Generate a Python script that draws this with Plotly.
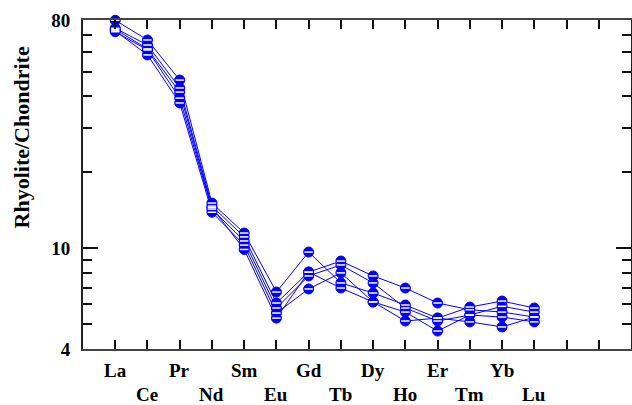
import math
import plotly.graph_objects as go

elements = ["La", "Ce", "Pr", "Nd", "Sm", "Eu", "Gd", "Tb", "Dy", "Ho", "Er", "Tm", "Yb", "Lu"]

sample_1 = [79.8, 66.7, 46.3, 15.1, 11.5, 6.72, 9.67, 7.30, 6.66, 5.97, 5.30, 5.86, 6.19, 5.81]
sample_2 = [74.2, 63.7, 43.1, 14.7, 11.1, 6.08, 8.06, 8.91, 7.78, 6.97, 6.08, 5.72, 5.60, 5.35]
sample_3 = [71.9, 60.9, 39.3, 14.3, 10.7, 5.81, 7.78, 8.60, 7.30, 5.81, 5.16, 5.45, 5.90, 5.60]
sample_4 = [72.5, 58.2, 37.6, 13.9, 10.3, 5.55, 6.91, 8.00, 6.14, 5.60, 4.71, 5.45, 5.35, 5.12]
sample_5 = [73.5, 61.5, 41.5, 14.5, 9.9, 5.30, 8.06, 6.97, 6.14, 5.16, 5.30, 5.12, 4.89, 5.35]
samples = [sample_1, sample_2, sample_3, sample_4, sample_5]

y_tick_vals = [4, 10, 80]
y_minor_vals = [5, 6, 7, 8, 9, 20, 30, 40, 50, 60, 70]
y_title = "Rhyolite/Chondrite"

xs = list(range(1, len(elements) + 1))
blue = "#0000ff"
font_family = "Liberation Serif, Times New Roman, serif"
lab_font = dict(family=font_family, size=19, color="black", weight="bold")

fig = go.Figure()
for s in samples:
    fig.add_trace(go.Scatter(
        x=xs, y=s, mode="lines+markers", cliponaxis=False,
        line=dict(color=blue, width=1),
        marker=dict(symbol="circle", size=10, color=blue, line=dict(color=blue, width=1)),
        showlegend=False, hoverinfo="skip"))
for s in samples:
    fig.add_trace(go.Scatter(
        x=xs, y=s, mode="markers", cliponaxis=False,
        marker=dict(symbol="line-ew-open", size=6, color="white", line=dict(color="white", width=1.5)),
        showlegend=False, hoverinfo="skip"))

# element labels in two staggered rows below the x axis
for i, e in enumerate(elements):
    fig.add_annotation(x=xs[i], y=0, xref="x", yref="paper", text=e, showarrow=False,
                       xanchor="center", yanchor="middle",
                       yshift=-21 if i % 2 == 0 else -45, font=lab_font)

fig.add_annotation(x=0, y=0.643, xref="paper", yref="paper", text=y_title, showarrow=False,
                   textangle=-90, xanchor="center", yanchor="middle", xshift=-62,
                   font=dict(family=font_family, size=22, color="black", weight="bold"))

fig.update_layout(
    width=632, height=405,
    margin=dict(l=83, r=1, t=20, b=56),
    paper_bgcolor="white", plot_bgcolor="white",
    font=dict(family=font_family, size=19, color="black", weight="bold"),
    xaxis=dict(
        range=[0, 17], tickmode="array", tickvals=list(range(1, 17)),
        showticklabels=False, automargin=False,
        ticks="inside", ticklen=9, tickwidth=2, tickcolor="#111",
        showline=True, linewidth=2, linecolor="#444", mirror="ticks",
        showgrid=False, zeroline=False),
    yaxis=dict(
        type="log", range=[math.log10(4), math.log10(80)], automargin=False,
        tickmode="array", tickvals=y_tick_vals, ticktext=[str(v) for v in y_tick_vals],
        ticks="inside", ticklen=15, tickwidth=1.5, tickcolor="#111",
        minor=dict(tickmode="array", tickvals=y_minor_vals, ticks="inside", ticklen=9,
                   tickwidth=1.5, tickcolor="#111", showgrid=False),
        showline=True, linewidth=2, linecolor="#222", mirror="ticks",
        showgrid=False, zeroline=False, ticklabelstandoff=7,
        tickfont=lab_font),
)

fig.write_html("out.html", config={"displayModeBar": False},
               post_script="document.body.style.margin='0';document.body.style.overflow='hidden';")
